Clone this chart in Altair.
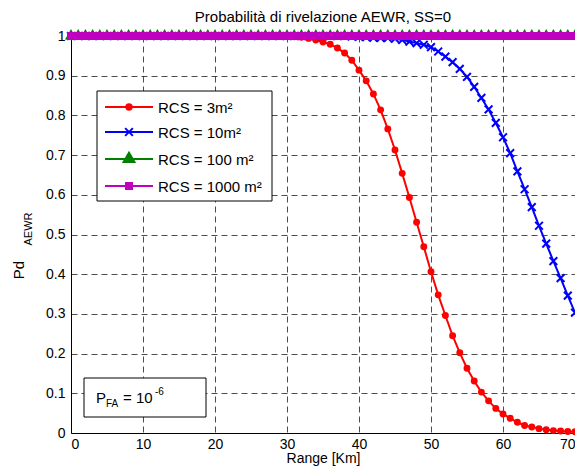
import altair as alt
import pandas as pd

# ---------------- data ----------------
range_km = [0, 1, 2, 3, 4, 5, 6, 7, 8, 9, 10, 11, 12, 13, 14, 15, 16, 17, 18, 19,
            20, 21, 22, 23, 24, 25, 26, 27, 28, 29, 30, 31, 32, 33, 34, 35, 36, 37, 38, 39,
            40, 41, 42, 43, 44, 45, 46, 47, 48, 49, 50, 51, 52, 53, 54, 55, 56, 57, 58, 59,
            60, 61, 62, 63, 64, 65, 66, 67, 68, 69, 70]

pd_rcs3 = [1.0, 1.0, 1.0, 1.0, 1.0, 1.0, 1.0, 1.0, 1.0, 1.0,
           1.0, 1.0, 1.0, 1.0, 1.0, 1.0, 1.0, 1.0, 1.0, 1.0,
           1.0, 1.0, 1.0, 1.0, 1.0, 1.0, 1.0, 1.0, 1.0, 1.0,
           0.999, 0.998, 0.997, 0.994, 0.990, 0.985, 0.979, 0.970, 0.957, 0.939,
           0.914, 0.887, 0.854, 0.814, 0.766, 0.713, 0.654, 0.593, 0.531, 0.469,
           0.406, 0.348, 0.296, 0.245, 0.202, 0.163, 0.131, 0.103, 0.081, 0.062,
           0.048, 0.037, 0.027, 0.019, 0.015, 0.011, 0.008, 0.006, 0.005, 0.004,
           0.003]

pd_rcs10 = [1.0, 1.0, 1.0, 1.0, 1.0, 1.0, 1.0, 1.0, 1.0, 1.0,
            1.0, 1.0, 1.0, 1.0, 1.0, 1.0, 1.0, 1.0, 1.0, 1.0,
            1.0, 1.0, 1.0, 1.0, 1.0, 1.0, 1.0, 1.0, 1.0, 1.0,
            1.0, 1.0, 1.0, 1.0, 1.0, 1.0, 1.0, 1.0, 1.0, 0.999,
            0.998, 0.997, 0.996, 0.995, 0.995, 0.993, 0.990, 0.986, 0.982, 0.978,
            0.972, 0.961, 0.948, 0.934, 0.917, 0.897, 0.872, 0.844, 0.815, 0.781,
            0.745, 0.705, 0.659, 0.614, 0.569, 0.522, 0.477, 0.433, 0.390, 0.346,
            0.303]

pd_rcs100 = [1.0, 1.0, 1.0, 1.0, 1.0, 1.0, 1.0, 1.0, 1.0, 1.0,
             1.0, 1.0, 1.0, 1.0, 1.0, 1.0, 1.0, 1.0, 1.0, 1.0,
             1.0, 1.0, 1.0, 1.0, 1.0, 1.0, 1.0, 1.0, 1.0, 1.0,
             1.0, 1.0, 1.0, 1.0, 1.0, 1.0, 1.0, 1.0, 1.0, 1.0,
             1.0, 1.0, 1.0, 1.0, 1.0, 1.0, 1.0, 1.0, 1.0, 1.0,
             1.0, 1.0, 1.0, 1.0, 1.0, 1.0, 1.0, 1.0, 1.0, 1.0,
             1.0, 1.0, 1.0, 1.0, 1.0, 1.0, 1.0, 1.0, 1.0, 1.0,
             1.0]

pd_rcs1000 = [1.0, 1.0, 1.0, 1.0, 1.0, 1.0, 1.0, 1.0, 1.0, 1.0,
              1.0, 1.0, 1.0, 1.0, 1.0, 1.0, 1.0, 1.0, 1.0, 1.0,
              1.0, 1.0, 1.0, 1.0, 1.0, 1.0, 1.0, 1.0, 1.0, 1.0,
              1.0, 1.0, 1.0, 1.0, 1.0, 1.0, 1.0, 1.0, 1.0, 1.0,
              1.0, 1.0, 1.0, 1.0, 1.0, 1.0, 1.0, 1.0, 1.0, 1.0,
              1.0, 1.0, 1.0, 1.0, 1.0, 1.0, 1.0, 1.0, 1.0, 1.0,
              1.0, 1.0, 1.0, 1.0, 1.0, 1.0, 1.0, 1.0, 1.0, 1.0,
              1.0]

x_ticks = [0, 10, 20, 30, 40, 50, 60, 70]
y_ticks = [0, 0.1, 0.2, 0.3, 0.4, 0.5, 0.6, 0.7, 0.8, 0.9, 1.0]

legend_labels = ["RCS = 3m\u00b2", "RCS = 10m\u00b2", "RCS = 100 m\u00b2", "RCS = 1000 m\u00b2"]
colors = ["#ff0000", "#0000ff", "#008000", "#bf00bf"]

# ---------------- style ----------------
FONT = "Liberation Sans"
W, H = 504, 397
X_SHAPE = "M-1,-1L1,1M-1,1L1,-1"
TRI_SHAPE = "M0,-1L0.87,0.5L-0.87,0.5Z"

xs = alt.X("range:Q",
           scale=alt.Scale(domain=[0, 70], nice=False),
           axis=alt.Axis(values=x_ticks, title="Range [Km]", format="d"))
ys = alt.Y("pd:Q",
           scale=alt.Scale(domain=[0, 1], nice=False),
           axis=alt.Axis(values=y_ticks, title="", format=".1~f"))


def series(vals):
    return pd.DataFrame({"range": range_km, "pd": vals})


layers = []
# red
d = series(pd_rcs3)
layers.append(alt.Chart(d).mark_line(color=colors[0], strokeWidth=2).encode(x=xs, y=ys))
layers.append(alt.Chart(d).mark_point(shape="circle", filled=True, color=colors[0],
                                      size=48, opacity=1).encode(x=xs, y=ys))
# blue
d = series(pd_rcs10)
layers.append(alt.Chart(d).mark_line(color=colors[1], strokeWidth=2).encode(x=xs, y=ys))
layers.append(alt.Chart(d).mark_point(shape=X_SHAPE, filled=False, color=colors[1],
                                      strokeWidth=2, size=60, opacity=1).encode(x=xs, y=ys))
# green
d = series(pd_rcs100)
layers.append(alt.Chart(d).mark_line(color=colors[2], strokeWidth=2).encode(x=xs, y=ys))
layers.append(alt.Chart(d).mark_point(shape=TRI_SHAPE, filled=True, color=colors[2],
                                      size=190, opacity=1).encode(x=xs, y=ys))
# magenta
d = series(pd_rcs1000)
layers.append(alt.Chart(d).mark_line(color=colors[3], strokeWidth=2).encode(x=xs, y=ys))
layers.append(alt.Chart(d).mark_point(shape="square", filled=True, color=colors[3],
                                      size=64, opacity=1).encode(x=xs, y=ys))

one = pd.DataFrame({"a": [0]})

# ---------------- legend box ----------------
layers.append(alt.Chart(one).mark_rect(fill="white", stroke="black", strokeWidth=1).encode(
    x=alt.value(26), x2=alt.value(201), y=alt.value(55), y2=alt.value(165)))
leg_y = [71, 96, 123, 150]
leg_shapes = ["circle", X_SHAPE, TRI_SHAPE, "square"]
leg_sizes = [55, 60, 270, 64]
for lab, col, ly, shp, sz in zip(legend_labels, colors, leg_y, leg_shapes, leg_sizes):
    layers.append(alt.Chart(one).mark_rule(color=col, strokeWidth=2).encode(
        x=alt.value(34), x2=alt.value(82), y=alt.value(ly)))
    filled = shp != X_SHAPE
    layers.append(alt.Chart(one).mark_point(shape=shp, filled=filled, color=col, size=sz,
                                            strokeWidth=2, opacity=1).encode(
        x=alt.value(58), y=alt.value(ly)))
    layers.append(alt.Chart(one).mark_text(text=lab, font=FONT, fontSize=15, align="left",
                                           baseline="middle", color="black").encode(
        x=alt.value(87), y=alt.value(ly + 1)))

# ---------------- P_FA box ----------------
layers.append(alt.Chart(one).mark_rect(fill="white", stroke="black", strokeWidth=1).encode(
    x=alt.value(13), x2=alt.value(135), y=alt.value(342), y2=alt.value(381)))
layers.append(alt.Chart(one).mark_text(text="P", font=FONT, fontSize=15, align="left",
                                       baseline="alphabetic", color="black").encode(
    x=alt.value(25), y=alt.value(367)))
layers.append(alt.Chart(one).mark_text(text="FA", font=FONT, fontSize=10, align="left",
                                       baseline="alphabetic", color="black").encode(
    x=alt.value(35), y=alt.value(371)))
layers.append(alt.Chart(one).mark_text(text="= 10", font=FONT, fontSize=15, align="left",
                                       baseline="alphabetic", color="black").encode(
    x=alt.value(52), y=alt.value(367)))
layers.append(alt.Chart(one).mark_text(text="-6", font=FONT, fontSize=10, align="left",
                                       baseline="alphabetic", color="black").encode(
    x=alt.value(84), y=alt.value(359)))

# ---------------- y title Pd_AEWR ----------------
layers.append(alt.Chart(one).mark_text(text="Pd", font=FONT, fontSize=15, angle=270,
                                       align="center", baseline="alphabetic", color="black").encode(
    x=alt.value(-47), y=alt.value(234)))
layers.append(alt.Chart(one).mark_text(text="AEWR", font=FONT, fontSize=11, angle=270,
                                       align="center", baseline="alphabetic", color="black").encode(
    x=alt.value(-39), y=alt.value(193)))

chart = alt.layer(*layers).properties(
    width=W, height=H,
    title=alt.TitleParams("Probabilità di rivelazione AEWR, SS=0", font=FONT, fontSize=15,
                          fontWeight="normal", color="black", anchor="middle",
                          frame="group", offset=3),
    autosize=alt.AutoSizeParams(type="none"),
    padding={"left": 63, "top": 28, "right": 0, "bottom": 34},
).configure_view(strokeWidth=0).configure_axis(
    labelFont=FONT, labelFontSize=14, labelColor="black",
    titleFont=FONT, titleFontSize=14, titleFontWeight="normal", titleColor="black",
    domainColor="black", domainWidth=1, ticks=False,
    grid=True, gridColor="black", gridDash=[6, 4], gridOpacity=0.7, gridWidth=1,
).configure_axisX(labelPadding=4, titlePadding=0).configure_axisY(labelPadding=6)

chart.save("out.html", embed_options={"renderer": "svg", "actions": False})
